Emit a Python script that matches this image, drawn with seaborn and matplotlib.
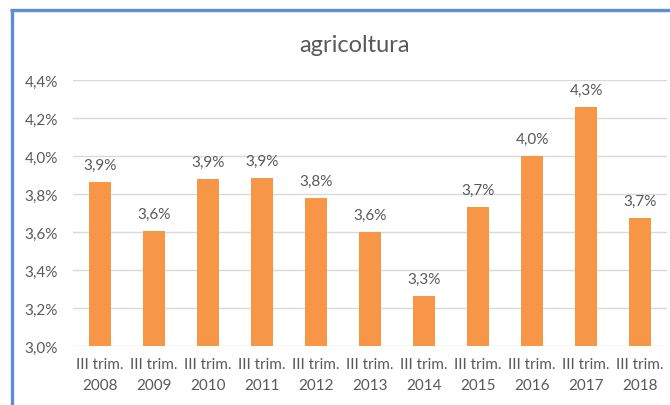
import matplotlib
matplotlib.use("Agg")
import matplotlib.pyplot as plt
import seaborn as sns
import pandas as pd
from matplotlib.lines import Line2D

categories = ["III trim.\n2008", "III trim.\n2009", "III trim.\n2010", "III trim.\n2011",
              "III trim.\n2012", "III trim.\n2013", "III trim.\n2014", "III trim.\n2015",
              "III trim.\n2016", "III trim.\n2017", "III trim.\n2018"]
values = [3.863, 3.605, 3.879, 3.884, 3.779, 3.600, 3.263, 3.732, 4.000, 4.258, 3.674]
yticks = [3.0, 3.2, 3.4, 3.6, 3.8, 4.0, 4.2, 4.4]
title = "agricoltura"

df = pd.DataFrame({"cat": categories, "val": values})

sns.set_theme(style="white")
plt.rcParams['font.family'] = ['Lato', 'DejaVu Sans']

W, H = 670, 406
fig = plt.figure(figsize=(W / 100, H / 100), dpi=100)
fig.patch.set_facecolor("white")
ax = fig.add_axes([73 / W, 59 / H, (667 - 73) / W, (347 - 81) / H])

sns.barplot(data=df, x="cat", y="val", color="#F79646", saturation=1, width=0.39, ax=ax, zorder=3)
for p in ax.patches:
    p.set_edgecolor("none")

ax.set_ylim(3.0, 4.4)
ax.set_yticks(yticks)
ax.set_yticklabels([f"{t:.1f}".replace(".", ",") + "%" for t in yticks])
ax.set_xlim(-0.5, len(categories) - 0.5)
ax.set_xlabel("")
ax.set_ylabel("")
for s in ax.spines.values():
    s.set_visible(False)
ax.yaxis.grid(True, color="#D9D9D9", linewidth=1, zorder=0)
ax.set_axisbelow(True)
ax.tick_params(axis="both", length=0, colors="#595959", labelsize=11)
ax.tick_params(axis="y", pad=11)
ax.tick_params(axis="x", pad=8)
for lbl in ax.get_xticklabels():
    lbl.set_linespacing(1.6)

labels = [f"{v:.1f}".replace(".", ",") + "%" for v in values]
ax.bar_label(ax.containers[0], labels=labels, padding=7, fontsize=11, color="#595959")

fig.text(355 / W, 1 - 45 / H, title, ha="center", va="center", fontsize=17, color="#595959")

# chart frame (blue border, left and top)
fig.add_artist(Line2D([11.5 / W, 11.5 / W], [0, 1 - 10.5 / H], transform=fig.transFigure,
                      color="#5B8ED6", linewidth=2.4, solid_capstyle="butt"))
fig.add_artist(Line2D([10.3 / W, 1], [1 - 10.5 / H, 1 - 10.5 / H], transform=fig.transFigure,
                      color="#5B8ED6", linewidth=2.4, solid_capstyle="butt"))
fig.add_artist(Line2D([13.5 / W, 1], [1 - 13.2 / H, 1 - 13.2 / H], transform=fig.transFigure,
                      color="#E3E3E3", linewidth=0.8))

fig.savefig("out.png", dpi=100, facecolor="white")
